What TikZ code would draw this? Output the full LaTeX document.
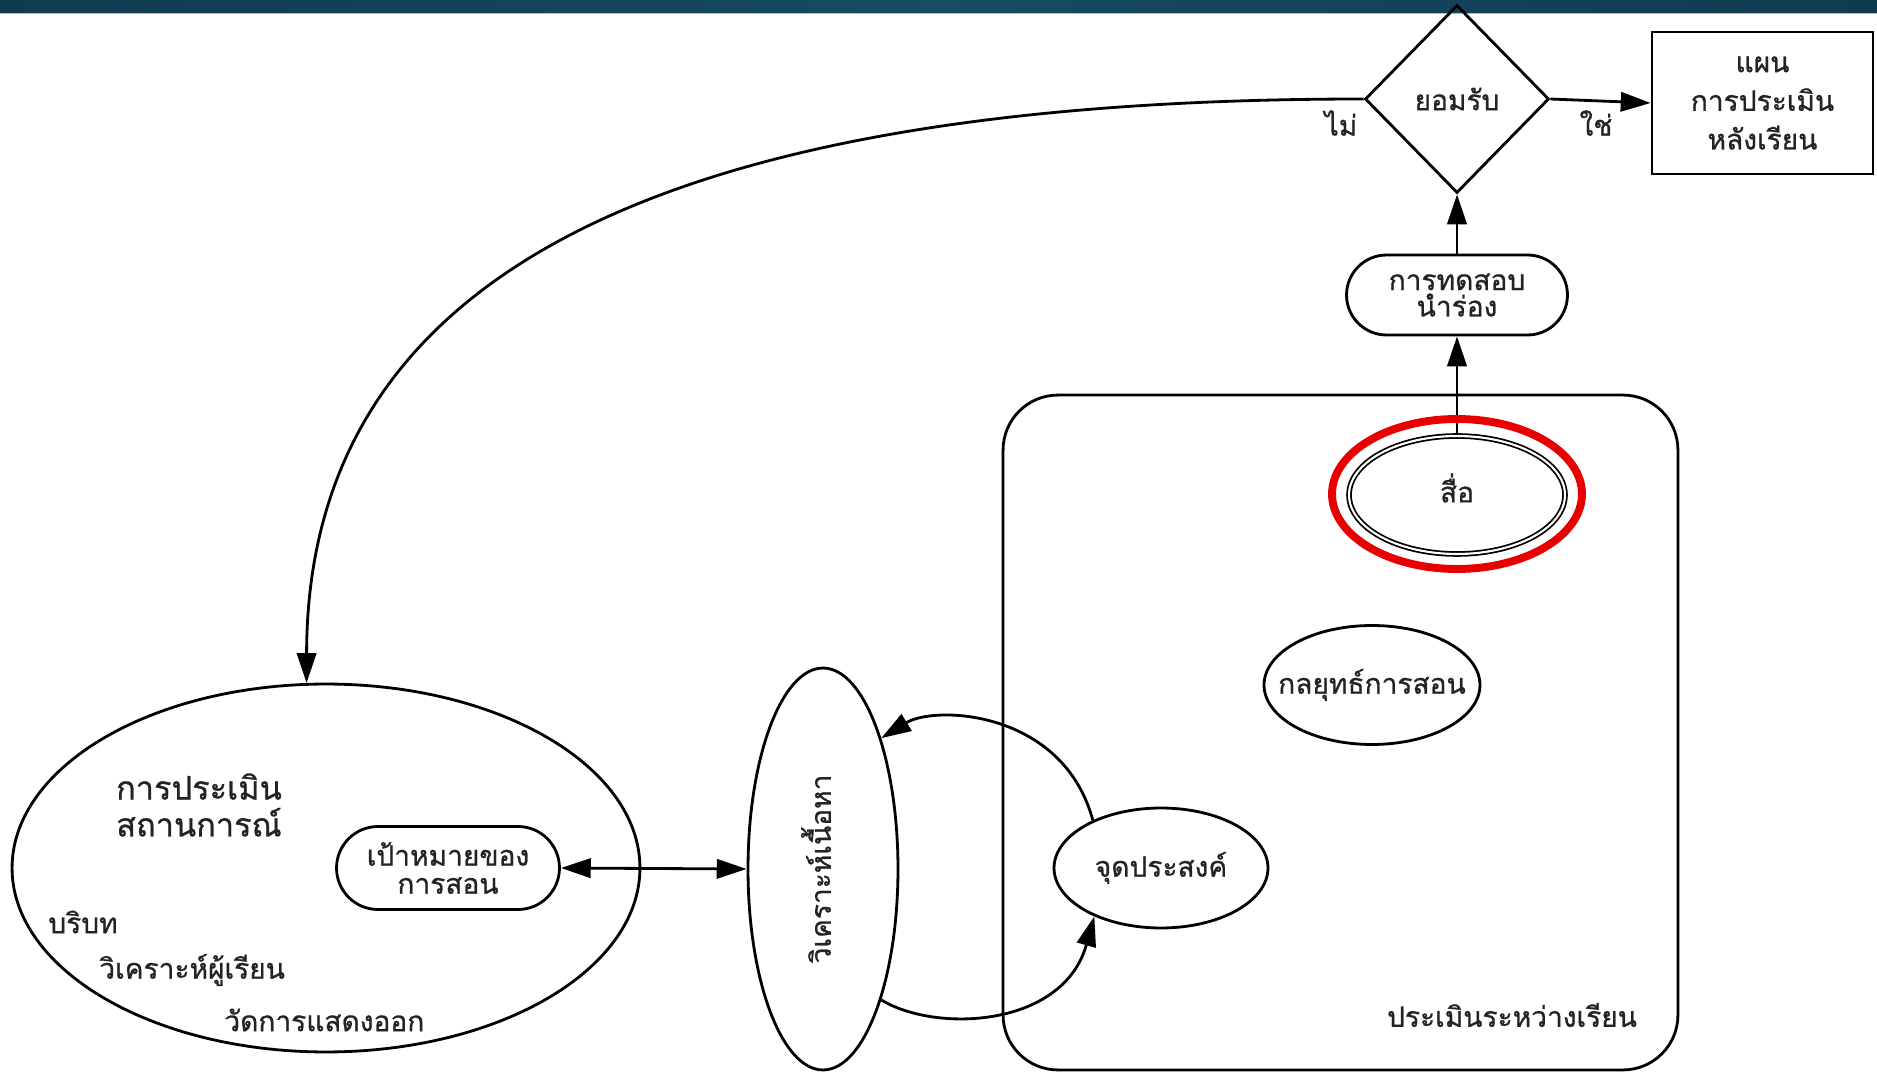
\documentclass[tikz,border=0pt]{standalone}
\usepackage{fontspec}
\setmainfont[Script=Thai, FakeBold=0.8]{Loma}
\usetikzlibrary{shapes.geometric,arrows.meta}
\definecolor{barc}{RGB}{22,76,100}
\definecolor{bard}{RGB}{16,58,80}
\definecolor{barline}{RGB}{170,190,200}
\definecolor{txt}{RGB}{35,35,35}
\definecolor{markred}{RGB}{232,0,0}
\begin{document}
\begin{tikzpicture}[x=0.02cm,y=0.02cm,
  every node/.style={text=txt, inner sep=0pt, font=\fontsize{16}{18}\selectfont},
  ln/.style={line width=1.6pt, draw=black},
  tip/.tip={Triangle[length=17pt,width=11pt]},
  arr/.style={ln, -tip},
  ell/.style={ellipse, ln},
  diam/.style={diamond, ln},
  pill/.style={rectangle, ln, align=center},
  plain/.style={align=center}]
\useasboundingbox (0,0) rectangle (1877,1083);
\fill[white] (0,0) rectangle (1877,1083);
% top bar
\fill[left color=bard, right color=bard, middle color=barc] (0,1070) rectangle (1877,1083);
\draw[barline, line width=1pt] (0,1069.5) -- (1877,1069.5);

% frame
\node[ln, rounded corners=1.1cm, minimum width=13.5cm, minimum height=13.5cm] (frame) at (1340.5,350.5) {};
\node (framelbl) at (1512,68) {ประเมินระหว่างเรียน};

% top row
\node[diam, minimum width=3.68cm, minimum height=3.76cm] (yes) at (1457,984) {ยอมรับ};
\node[pill, minimum width=4.42cm, minimum height=2.84cm, font=\fontsize{16}{22}\selectfont] (plan) at (1762.5,980) {แผน\\การประเมิน\\หลังเรียน};
\node (nolbl) at (1341,960) {ไม่};
\node (yeslbl) at (1596,960) {ใช่};
\node[pill, rounded corners=0.8cm, minimum width=4.42cm, minimum height=1.6cm, font=\fontsize{16}{15}\selectfont] (test) at (1457,788) {การทดสอบ\\นำร่อง};

% media
\node[ellipse, draw=black, double, double distance=1.2pt, line width=1pt, minimum width=4.32cm, minimum height=2.36cm] (media) at (1457,588) {};
\node (mediat) at (1457,595) {สื่อ};

% inside frame
\node[ell, minimum width=4.32cm, minimum height=2.38cm] (strat) at (1372,398) {\makebox[0pt]{กลยุทธ์การสอน}};
\node[ell, minimum width=4.28cm, minimum height=2.4cm] (obj) at (1161,215) {\makebox[0pt]{จุดประสงค์}};

% content analysis
\node[ell, minimum width=3cm, minimum height=8.04cm] (ana) at (823,214) {};
\node[rotate=90] (anat) at (816,214) {วิเคราะห์เนื้อหา};

% situation
\node[ell, minimum width=12.56cm, minimum height=7.36cm] (sit) at (326,215) {};
\node[plain, font=\fontsize{18.5}{21}\selectfont] (sith) at (199,278) {การประเมิน\\สถานการณ์};
\node[anchor=west] (ctx) at (48,161) {บริบท};
\node[anchor=west] (learn) at (99,113) {วิเคราะห์ผู้เรียน};
\node[anchor=west] (perf) at (224,63) {วัดการแสดงออก};
\node[pill, rounded corners=0.83cm, minimum width=4.46cm, minimum height=1.66cm, font=\fontsize{16}{16}\selectfont] (goal) at (448,215) {เป้าหมายของ\\การสอน};

% connectors
\draw[arr] (yes.east) -- (plan.west);
\draw[arr] (test.north) -- (yes.south);
\draw[arr] (media.north) -- (test.south);
\draw[arr] (yes.west) .. controls (650,984) and (307,803) .. (sit.96);
\draw[arr] (obj.145) .. controls (1063,373) and (935,378) .. (ana.66);
\draw[arr] (ana.-66) .. controls (935,50) and (1063,55) .. (obj.216);
\draw[ln, tip-tip] (goal.east) -- (ana.west);

% highlight
\node[ellipse, draw=markred, line width=4.5pt, minimum width=5cm, minimum height=3cm] (mark) at (1457,589) {};
\end{tikzpicture}
\end{document}
